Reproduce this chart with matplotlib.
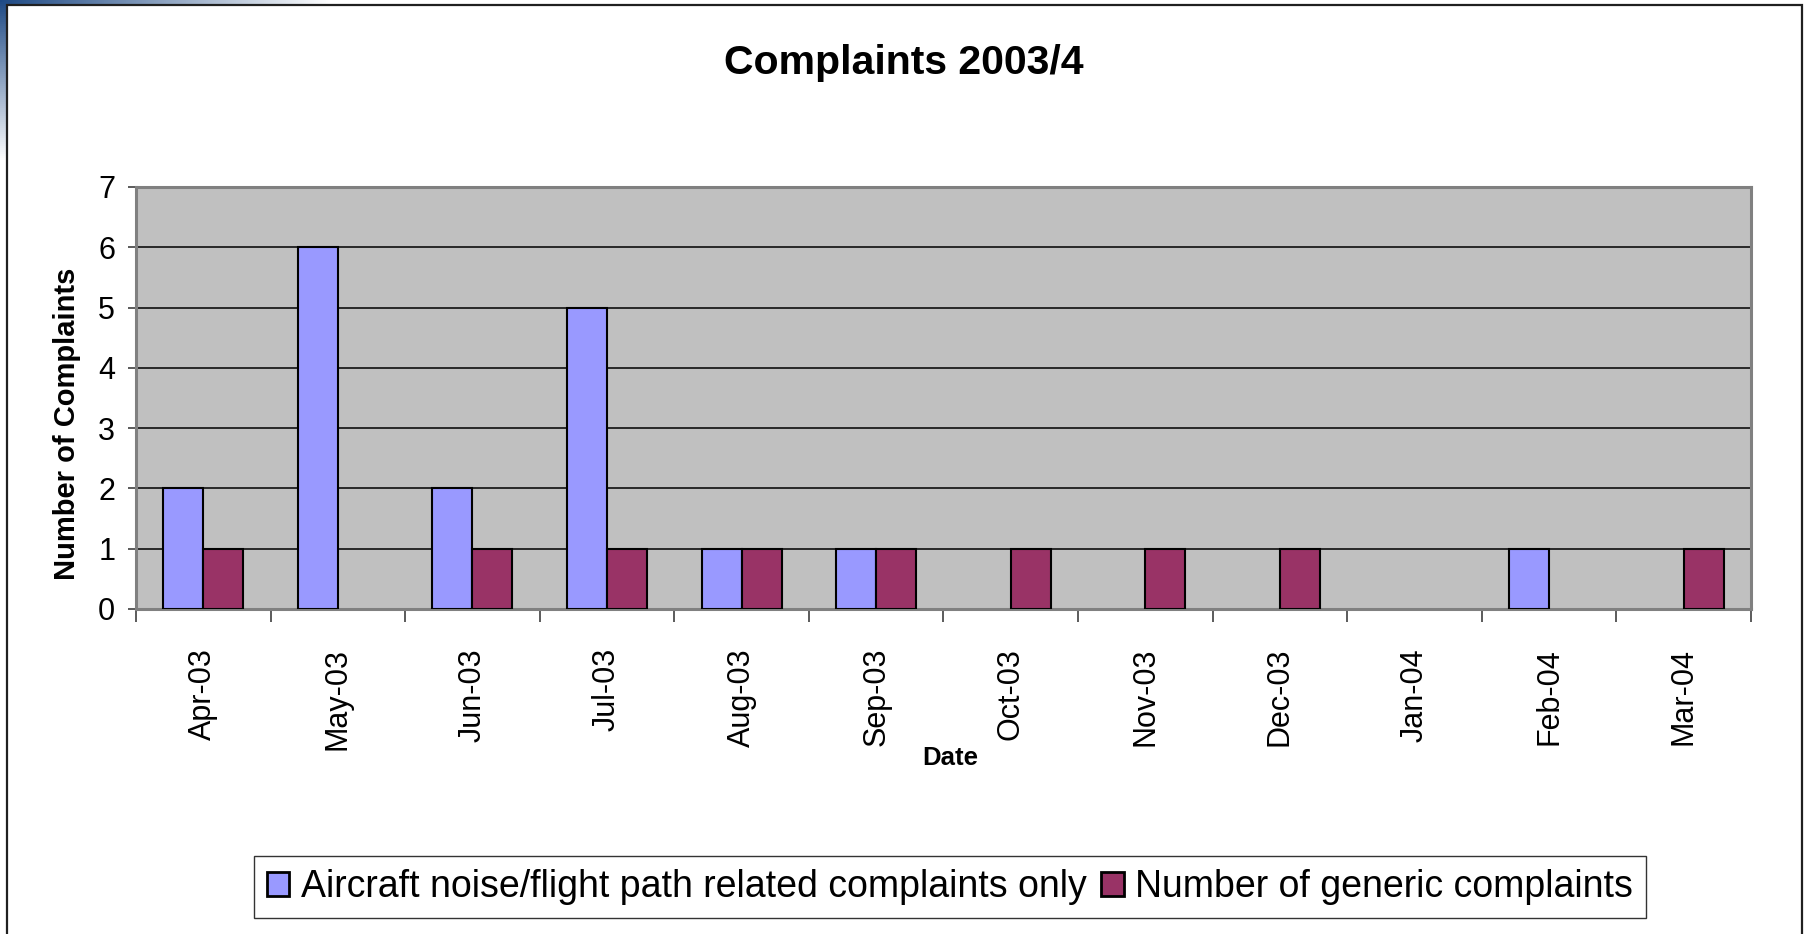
import matplotlib
matplotlib.use('Agg')
import matplotlib.pyplot as plt
import numpy as np
from matplotlib.patches import Rectangle

plt.rcParams['font.family'] = ['Liberation Sans', 'DejaVu Sans']

# データ
months = ['Apr-03', 'May-03', 'Jun-03', 'Jul-03', 'Aug-03', 'Sep-03',
          'Oct-03', 'Nov-03', 'Dec-03', 'Jan-04', 'Feb-04', 'Mar-04']
aircraft = [2, 6, 2, 5, 1, 1, 0, 0, 0, 0, 1, 0]
generic = [1, 0, 1, 1, 1, 1, 1, 1, 1, 0, 0, 1]

W, H = 1806, 934
fig = plt.figure(figsize=(W / 100, H / 100), dpi=100)

# 背景 (スライドの青いグラデーション + 白い枠)
bg = fig.add_axes([0, 0, 1, 1], zorder=-10)
bg.set_xlim(0, W)
bg.set_ylim(H, 0)
bg.axis('off')
yy, xx = np.mgrid[0:H:2, 0:W:2]
a = np.clip(1 - np.hypot(xx / 330.0, yy / 160.0), 0, 1)
img = np.ones((yy.shape[0], yy.shape[1], 3))
blue = np.array([0.12, 0.29, 0.52])
for c in range(3):
    img[:, :, c] = 1 - a * (1 - blue[c])
bg.imshow(img, extent=(0, W, H, 0), aspect='auto')
bg.add_patch(Rectangle((7, 5), 1795, 940, facecolor='white',
                       edgecolor='#202020', linewidth=1.6))

ax = fig.add_axes([136 / W, 1 - 609 / H, (1751 - 136) / W, (609 - 187) / H])
ax.set_facecolor('#C0C0C0')

x = np.arange(len(months))
w = 0.297
# 値が0の棒は枠線も描かない
ec1 = ['black' if v else 'none' for v in aircraft]
ec2 = ['black' if v else 'none' for v in generic]
ax.bar(x - w / 2, aircraft, w, color='#9999FF', edgecolor=ec1,
       linewidth=1.5, zorder=3,
       label='Aircraft noise/flight path related complaints only')
ax.bar(x + w / 2, generic, w, color='#993366', edgecolor=ec2,
       linewidth=1.5, zorder=3, label='Number of generic complaints')

ax.set_xlim(-0.5, len(months) - 0.5)
ax.set_ylim(0, 7)
ax.set_yticks(range(8))
ax.yaxis.grid(True, color='black', linewidth=1.1, zorder=1)
ax.set_axisbelow(True)

ax.set_xticks(x)
ax.set_xticklabels(months, rotation=90, fontsize=22)
ax.set_xticks(np.arange(-0.5, len(months)), minor=True)
ax.tick_params(axis='x', which='major', length=0, pad=28)
ax.tick_params(axis='x', which='minor', length=9, width=1.2, color='#404040')
ax.tick_params(axis='y', length=6, width=1.2, color='#404040', pad=9,
               labelsize=22)

for s in ax.spines.values():
    s.set_color('#808080')
    s.set_linewidth(2.2)

fig.text(904 / W, 1 - 63 / H, 'Complaints 2003/4', fontsize=29.5,
         fontweight='bold', ha='center', va='center')
fig.text(67 / W, 1 - 424 / H, 'Number of Complaints', fontsize=21,
         fontweight='bold', rotation=90, ha='center', va='center')
fig.text(950 / W, 1 - 758 / H, 'Date', fontsize=18.5, fontweight='bold',
         ha='center', va='center')

leg = fig.legend(loc='center', bbox_to_anchor=(950 / W, 1 - 887 / H),
                 ncol=2, fontsize=27, frameon=True, fancybox=False,
                 edgecolor='black', handlelength=0.6, handleheight=0.6,
                 handletextpad=0.3, columnspacing=0.4, borderpad=0.35)
leg.get_frame().set_linewidth(1.0)
for h in leg.legend_handles:
    h.set_edgecolor('black')
    h.set_linewidth(2.0)

plt.savefig('out.png', dpi=100)
